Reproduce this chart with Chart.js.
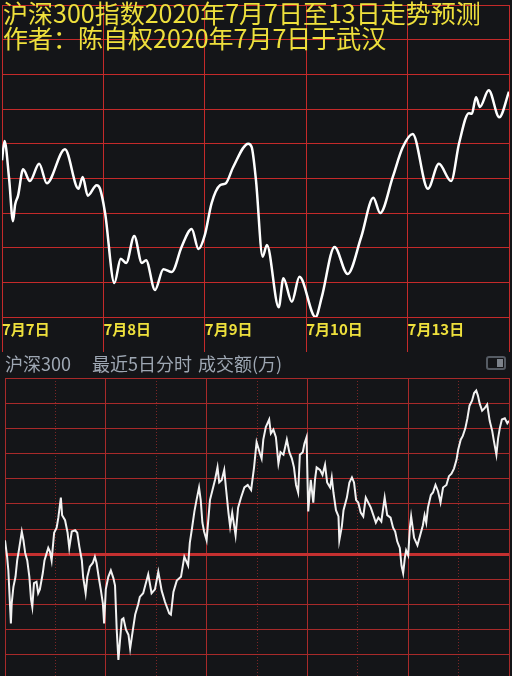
<!DOCTYPE html>
<html>
<head>
<meta charset="utf-8">
<script src="https://cdn.jsdelivr.net/npm/chart.js@4.4.1/dist/chart.umd.min.js"></script>
<style>
  html, body { margin: 0; padding: 0; background: #141518; overflow: hidden; }
  #wrap { position: relative; width: 512px; height: 676px; overflow: hidden; }
  #top { position: absolute; left: 0; top: 0; }
  #bottom { position: absolute; left: 0; top: 376px; }
  .title { position: absolute; left: 3px; color: #eee03c; font: 25px/25px "Noto Sans CJK SC"; white-space: nowrap; }
  #head { position: absolute; left: 0; top: 350px; width: 512px; height: 26px; color: #9ea7b3; font: 18px/26px "Noto Sans CJK SC"; }
  #head span { position: absolute; top: 0; white-space: nowrap; }
  #icon { position: absolute; left: 486px; top: 6px; width: 20px; height: 14px; box-sizing: border-box;
          border: 2px solid #555b63; border-radius: 3px; }
  #icon div { position: absolute; right: 1px; top: 1px; width: 6px; height: 8px; background: #7d838b; }
</style>
</head>
<body>
<div id="wrap">
  <canvas id="top" width="512" height="352"></canvas>
  <div class="title" style="top:0px">沪深300指数2020年7月7日至13日走势预测</div>
  <div class="title" style="top:25px">作者：陈自权2020年7月7日于武汉</div>
  <div id="head">
    <span style="left:5px">沪深300</span>
    <span style="left:92px">最近5日分时</span>
    <span style="left:198px">成交额(万)</span>
    <div id="icon"><div></div></div>
  </div>
  <canvas id="bottom" width="512" height="310"></canvas>
</div>
<script>
// x values are trading minutes since the open of 7月7日 (240 per day)
const dayLabels = ['7月7日', '7月8日', '7月9日', '7月10日', '7月13日'];
const noonMinutes = [120, 360, 600, 840, 1080];

// forecast (top panel)
const topMinutes = [0, 6, 17, 26, 31, 38, 50, 66, 88, 106, 149, 181, 191, 203, 224, 232, 244, 266, 281, 294,
  313, 331, 341, 362, 382, 402, 425, 449, 465, 480, 496, 516, 530, 547, 583, 591, 601, 617, 627, 655,
  666, 686, 704, 742, 757, 787, 818, 850, 879, 895, 925, 948, 972, 1008, 1034, 1063, 1082, 1105, 1112, 1122,
  1131, 1152, 1177, 1200];
const topValues = [4826, 4854, 4798, 4738, 4762, 4775, 4813, 4796, 4821, 4793, 4842, 4785, 4802, 4775, 4790, 4785, 4750, 4649, 4684, 4678,
  4717, 4678, 4682, 4639, 4669, 4665, 4701, 4727, 4698, 4718, 4764, 4790, 4793, 4816, 4850, 4845, 4798, 4687, 4704, 4614,
  4656, 4622, 4658, 4600, 4629, 4701, 4662, 4715, 4772, 4750, 4802, 4844, 4864, 4785, 4821, 4796, 4851, 4894, 4893, 4917,
  4903, 4927, 4888, 4925];

// last 5 days intraday (bottom panel)
const bottomMinutes = [
  0, 5, 8, 14, 16, 20, 25, 29, 33, 40, 44, 48, 53, 58, 62, 65, 69, 75, 79, 83, 90, 94, 103, 107, 111, 117, 123, 127, 133, 136,
  143, 149, 153, 159, 167, 172, 177, 183, 186, 192, 196, 202, 209, 214, 218, 223, 228, 233, 236,
  240, 246, 252, 258, 262, 266, 270, 278, 282, 288, 294, 298, 305, 310, 317, 321, 329, 341, 349, 357, 365, 373, 381, 391, 395,
  401, 409, 419, 427, 436, 440, 445, 451, 456, 462, 466, 470, 474, 480,
  484, 488, 494, 500, 506, 510, 516, 522, 526, 532, 536, 541, 549, 555, 562, 570, 578, 586, 593, 599, 607, 611, 615, 621, 629,
  633, 639, 645, 651, 656, 663, 671, 677, 683, 688, 693, 698, 702, 709, 713, 718,
  722, 728, 734, 738, 742, 750, 756, 762, 767, 774, 778, 782, 788, 794, 796, 802, 806, 814, 820, 826, 831, 836, 841, 847, 853,
  859, 865, 871, 877, 883, 889, 896, 904, 910, 918, 924, 929, 934, 940, 944, 948, 952, 955, 960,
  964, 967, 974, 982, 995, 999, 1003, 1007, 1014, 1019, 1025, 1031, 1037, 1043, 1051, 1057, 1063, 1069, 1075, 1079, 1085, 1090,
  1096, 1101, 1106, 1112, 1117, 1122, 1126, 1130, 1136, 1142, 1148, 1154, 1160, 1164, 1170, 1174, 1178, 1183, 1190, 1196, 1200];
const bottomValues = [
  4671, 4658, 4647, 4605, 4621, 4634, 4642, 4655, 4663, 4678, 4671, 4661, 4655, 4642, 4624, 4618, 4637, 4638, 4629, 4632, 4645, 4655, 4665, 4662, 4655, 4677, 4681, 4689, 4705, 4691,
  4687, 4677, 4665, 4678, 4679, 4677, 4666, 4655, 4642, 4629, 4642, 4650, 4653, 4658, 4653, 4642, 4632, 4621, 4605,
  4632, 4642, 4647, 4641, 4635, 4600, 4576, 4608, 4609, 4600, 4596, 4585, 4601, 4612, 4620, 4626, 4629, 4644, 4629, 4632, 4646, 4631, 4622, 4613, 4612,
  4630, 4639, 4642, 4658, 4651, 4669, 4680, 4694, 4703, 4713, 4703, 4685, 4678, 4671,
  4687, 4703, 4711, 4719, 4729, 4717, 4719, 4727, 4713, 4693, 4682, 4693, 4675, 4697, 4705, 4713, 4715, 4711, 4729, 4749, 4740, 4736, 4751, 4761, 4767,
  4756, 4759, 4753, 4732, 4741, 4739, 4751, 4741, 4736, 4729, 4715, 4709, 4739, 4741, 4748, 4753,
  4694, 4719, 4701, 4719, 4729, 4727, 4723, 4731, 4717, 4713, 4721, 4709, 4695, 4690, 4671, 4682, 4695, 4705, 4717, 4721, 4717, 4703, 4701, 4693, 4690,
  4705, 4701, 4697, 4691, 4685, 4689, 4686, 4705, 4691, 4689, 4681, 4678, 4670, 4665, 4651, 4645, 4657, 4663, 4659,
  4681, 4690, 4673, 4667, 4683, 4691, 4685, 4697, 4707, 4709, 4715, 4710, 4701, 4713, 4715, 4722, 4724, 4728, 4735, 4743, 4751, 4754,
  4760, 4768, 4778, 4782, 4788, 4790, 4786, 4780, 4774, 4776, 4779, 4766, 4758, 4750, 4739, 4752, 4760, 4767, 4768, 4764, 4766];
const prevClose = 4660;

const toPoints = (xs, ys) => xs.map((x, i) => ({ x: x, y: ys[i] }));

const gridRed = '#c42a2a';

new Chart(document.getElementById('top'), {
  type: 'line',
  data: {
    datasets: [{
      data: toPoints(topMinutes, topValues),
      borderColor: '#ffffff',
      borderWidth: 2.5,
      pointRadius: 0,
      cubicInterpolationMode: 'monotone'
    }]
  },
  options: {
    responsive: false,
    animation: false,
    devicePixelRatio: 1,
    layout: { padding: { left: 2, right: 3, top: 5, bottom: 0 } },
    plugins: { legend: { display: false }, tooltip: { enabled: false } },
    scales: {
      x: {
        type: 'linear', min: 0, max: 1200,
        afterFit: s => { s.height = 35; },
        ticks: {
          stepSize: 240, align: 'start', padding: -32, maxRotation: 0, autoSkip: false,
          color: '#eee03c',
          font: { family: 'Noto Sans CJK SC', size: 15, weight: 'bold' },
          callback: v => dayLabels[v / 240] || ''
        },
        grid: { color: gridRed, tickColor: gridRed, tickLength: 35, lineWidth: 1 },
        border: { display: false }
      },
      y: {
        min: 4600, max: 5050,
        ticks: { display: false, stepSize: 50 },
        grid: { color: gridRed, lineWidth: 1, drawTicks: false },
        border: { display: false }
      }
    }
  }
});

new Chart(document.getElementById('bottom'), {
  type: 'line',
  data: {
    datasets: [{
      data: toPoints(bottomMinutes, bottomValues),
      borderColor: '#f2f2f2',
      borderWidth: 2,
      pointRadius: 0,
      tension: 0
    }]
  },
  options: {
    responsive: false,
    animation: false,
    devicePixelRatio: 1,
    layout: { padding: { left: 5, right: 3, top: 2, bottom: 6 } },
    plugins: { legend: { display: false }, tooltip: { enabled: false } },
    scales: {
      x: {
        type: 'linear', min: 0, max: 1200,
        ticks: { display: false, stepSize: 240 },
        grid: { color: '#a82a2a', drawTicks: false },
        border: { display: false }
      },
      x2: {
        type: 'linear', min: 0, max: 1200, position: 'bottom',
        afterBuildTicks: s => { s.ticks = noonMinutes.map(v => ({ value: v })); },
        ticks: { display: false },
        grid: { color: '#7a2626', drawTicks: false },
        border: { display: false, dash: [1, 2] }
      },
      y: {
        min: 4560, max: 4800,
        ticks: { display: false, stepSize: 20 },
        grid: {
          drawTicks: false,
          color: c => (c.tick && c.tick.value === prevClose ? '#c43030' : '#a82a2a'),
          lineWidth: c => (c.tick && c.tick.value === prevClose ? 3 : 1)
        },
        border: { display: false }
      }
    }
  }
});
</script>
</body>
</html>
